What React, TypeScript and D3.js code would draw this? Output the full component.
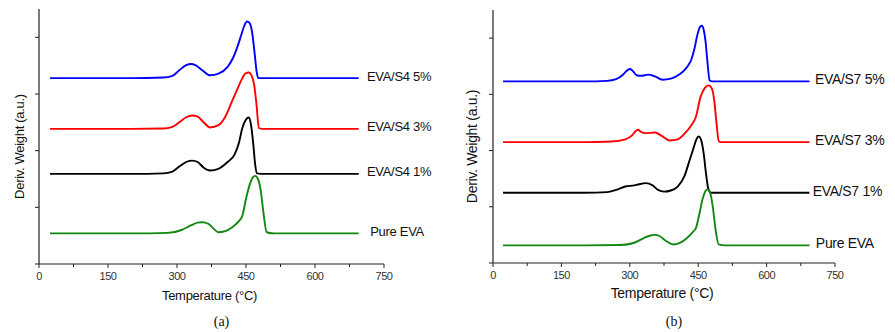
import React from 'react';
import * as d3 from 'd3';

// temperatures (°C) and stacked derivative weight (a.u.)
const xTicks = [0, 150, 300, 450, 600, 750];
const xMinorTicks = [75, 225, 375, 525, 675];
const yTicks = [0, 1, 2, 3, 4];

// panel (a) EVA/S4
const a5T = [24, 100, 200, 270, 290, 305, 320, 330, 340, 355, 372, 390, 410, 422, 432, 440, 446, 452, 458, 464, 469, 473, 477, 490, 600, 695];
const a5V = [3.28, 3.28, 3.28, 3.29, 3.32, 3.42, 3.51, 3.53, 3.51, 3.42, 3.33, 3.36, 3.48, 3.64, 3.85, 4.05, 4.2, 4.28, 4.25, 4.05, 3.7, 3.4, 3.28, 3.28, 3.28, 3.28];
const a3T = [24, 200, 270, 290, 305, 320, 333, 345, 358, 372, 390, 405, 420, 432, 442, 450, 456, 462, 468, 473, 478, 485, 600, 695];
const a3V = [2.385, 2.385, 2.39, 2.42, 2.5, 2.59, 2.62, 2.6, 2.5, 2.41, 2.45, 2.6, 2.88, 3.1, 3.28, 3.37, 3.38, 3.33, 3.15, 2.8, 2.4, 2.385, 2.385, 2.385];
const a1T = [24, 200, 270, 290, 305, 320, 333, 345, 358, 372, 390, 410, 425, 435, 442, 450, 456, 461, 466, 470, 474, 490, 600, 695];
const a1V = [1.59, 1.59, 1.6, 1.63, 1.72, 1.8, 1.825, 1.8, 1.7, 1.65, 1.68, 1.8, 1.93, 2.15, 2.4, 2.55, 2.585, 2.45, 2.1, 1.75, 1.6, 1.59, 1.59, 1.59];
const a0T = [24, 200, 280, 310, 330, 345, 355, 368, 380, 390, 405, 420, 435, 442, 450, 458, 465, 470, 476, 482, 488, 495, 510, 600, 695];
const a0V = [0.54, 0.54, 0.55, 0.6, 0.68, 0.73, 0.737, 0.71, 0.62, 0.56, 0.58, 0.65, 0.76, 0.85, 1.15, 1.4, 1.53, 1.555, 1.5, 1.3, 0.9, 0.56, 0.54, 0.54, 0.54];

// panel (b) EVA/S7
const b5T = [22, 200, 250, 270, 285, 295, 300, 306, 315, 325, 340, 355, 372, 390, 410, 425, 435, 442, 448, 454, 458, 462, 466, 470, 475, 480, 600, 694];
const b5V = [3.23, 3.23, 3.24, 3.27, 3.35, 3.43, 3.45, 3.42, 3.34, 3.33, 3.35, 3.32, 3.26, 3.28, 3.36, 3.48, 3.62, 3.82, 4.05, 4.2, 4.22, 4.15, 3.95, 3.6, 3.25, 3.23, 3.23, 3.23];
const b3T = [22, 200, 260, 290, 305, 312, 318, 325, 335, 355, 370, 387, 405, 420, 435, 445, 455, 465, 473, 480, 485, 490, 495, 500, 600, 694];
const b3V = [2.15, 2.15, 2.16, 2.2, 2.27, 2.34, 2.37, 2.33, 2.31, 2.32, 2.26, 2.18, 2.2, 2.3, 2.45, 2.6, 2.95, 3.12, 3.16, 3.1, 2.9, 2.5, 2.17, 2.15, 2.15, 2.15];
const b1T = [22, 200, 250, 270, 290, 310, 320, 335, 350, 362, 375, 390, 405, 420, 432, 440, 446, 451, 456, 462, 467, 472, 478, 490, 600, 694];
const b1V = [1.25, 1.25, 1.26, 1.3, 1.36, 1.38, 1.4, 1.42, 1.38, 1.3, 1.27, 1.29, 1.36, 1.55, 1.85, 2.05, 2.2, 2.25, 2.2, 1.95, 1.6, 1.33, 1.25, 1.25, 1.25, 1.25];
const b0T = [22, 200, 280, 310, 330, 345, 355, 365, 378, 395, 410, 425, 438, 445, 452, 460, 466, 470, 476, 482, 488, 495, 510, 600, 694];
const b0V = [0.314, 0.314, 0.32, 0.36, 0.44, 0.49, 0.5, 0.48, 0.4, 0.33, 0.36, 0.44, 0.55, 0.62, 0.85, 1.15, 1.28, 1.31, 1.25, 1.0, 0.6, 0.33, 0.314, 0.314, 0.314];

const colors = ['#0000ff', '#ff0000', '#000000', '#118811'];
const aLabels = ['EVA/S4 5%', 'EVA/S4 3%', 'EVA/S4 1%', 'Pure EVA'];
const bLabels = ['EVA/S7 5%', 'EVA/S7 3%', 'EVA/S7 1%', 'Pure EVA'];
const aLabelX = [713, 713, 713, 720];
const bLabelX = [706, 706, 701, 708];

interface Series {
  temps: number[];
  vals: number[];
  label: string;
  labelX: number;
  color: string;
}

interface PanelProps {
  left: number;
  right: number;
  bottom: number;
  top: number;
  series: Series[];
  caption: string;
  titleY: number;
  yLabelX: number;
  labelSize: number;
}

const Panel: React.FC<PanelProps> = ({ left, right, bottom, top, series, caption, titleY, yLabelX, labelSize }) => {
  const x = d3.scaleLinear().domain([0, 750]).range([left, right]);
  const y = d3.scaleLinear().domain([0, 4.5]).range([bottom, top]);
  const line = d3.line<[number, number]>()
    .x(d => x(d[0]))
    .y(d => y(d[1]))
    .curve(d3.curveMonotoneX);
  const midX = (left + right) / 2;
  const font = 'Liberation Sans, Arial, sans-serif';

  return (
    <g>
      {/* axes */}
      <line x1={left} x2={left} y1={top} y2={bottom} stroke="#222" strokeWidth={1.2} />
      <line x1={left} x2={right} y1={bottom} y2={bottom} stroke="#222" strokeWidth={1.2} />
      {yTicks.map(t => (
        <line key={`yt${t}`} x1={left - 4} x2={left} y1={y(t)} y2={y(t)} stroke="#222" strokeWidth={1} />
      ))}
      {xTicks.map(t => (
        <g key={`xt${t}`}>
          <line x1={x(t)} x2={x(t)} y1={bottom} y2={bottom + 4} stroke="#222" strokeWidth={1} />
          <text x={x(t)} y={bottom + 16} textAnchor="middle" fontSize={11} fontFamily={font} fill="#333" letterSpacing={-0.5}>{t}</text>
        </g>
      ))}
      {xMinorTicks.map(t => (
        <line key={`xm${t}`} x1={x(t)} x2={x(t)} y1={bottom} y2={bottom + 3} stroke="#222" strokeWidth={1} />
      ))}

      {/* curves */}
      {series.map(s => (
        <g key={s.label + s.color}>
          <path
            d={line(s.temps.map((t, i) => [t, s.vals[i]] as [number, number])) || ''}
            fill="none"
            stroke={s.color}
            strokeWidth={1.9}
          />
          <text
            x={x(s.labelX)}
            y={y(s.vals[s.vals.length - 1]) - 2}
            dy="0.35em"
            fontSize={labelSize}
            fontFamily={font}
            fill="#111"
            letterSpacing={-0.3}
          >
            {s.label}
          </text>
        </g>
      ))}

      {/* titles */}
      <text x={midX - 2} y={titleY} textAnchor="middle" fontSize={labelSize} fontFamily={font} fill="#111" letterSpacing={-0.3}>
        Temperature (°C)
      </text>
      <text
        transform={`translate(${yLabelX},${(top + bottom) / 2 + 10}) rotate(-90)`}
        textAnchor="middle"
        fontSize={labelSize}
        fontFamily={font}
        fill="#111"
        letterSpacing={-0.3}
      >
        Deriv. Weight (a.u.)
      </text>
      <text x={midX + 10} y={326} textAnchor="middle" fontSize={14} fontFamily="Liberation Serif, Times New Roman, serif" fill="#111">
        {caption}
      </text>
    </g>
  );
};

const mk = (temps: number[][], vals: number[][], labels: string[], labelX: number[]): Series[] =>
  temps.map((t, i) => ({ temps: t, vals: vals[i], label: labels[i], labelX: labelX[i], color: colors[i] }));

const App: React.FC = () => {
  const aSeries = mk([a5T, a3T, a1T, a0T], [a5V, a3V, a1V, a0V], aLabels, aLabelX);
  const bSeries = mk([b5T, b3T, b1T, b0T], [b5V, b3V, b1V, b0V], bLabels, bLabelX);
  return (
    <svg width={895} height={332} style={{ position: 'absolute', left: 0, top: 0, background: '#fff' }}>
      <Panel left={39} right={384} bottom={264} top={9} series={aSeries} caption="(a)" titleY={300} yLabelX={24} labelSize={13} />
      <Panel left={493} right={835} bottom={263} top={10} series={bSeries} caption="(b)" titleY={298} yLabelX={477} labelSize={14} />
    </svg>
  );
};

export default App;
